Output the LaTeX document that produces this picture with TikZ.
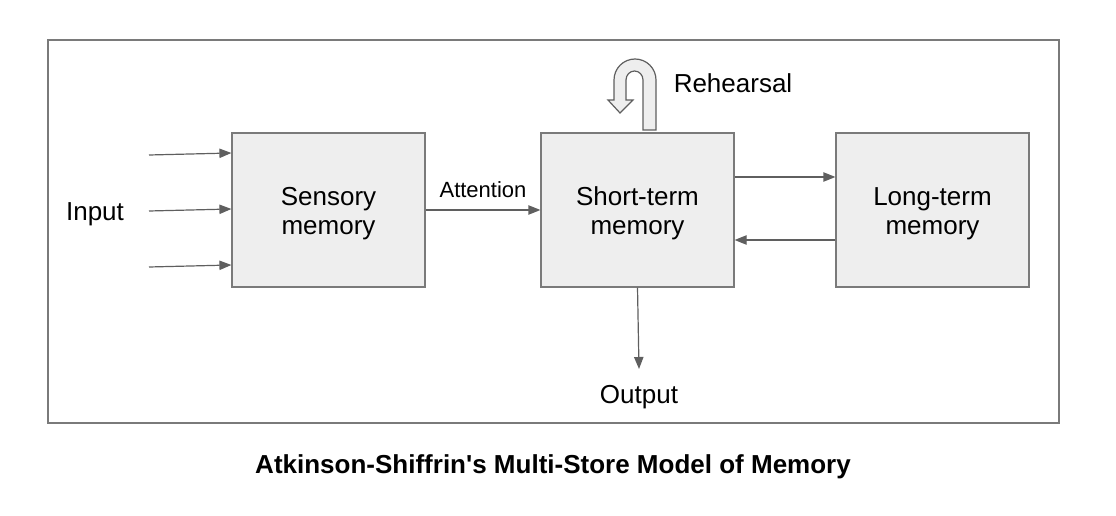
\documentclass[tikz,border=0pt]{standalone}
\usepackage{fontspec}
\setmainfont{Liberation Sans}[Ligatures=TeXOff]
\usetikzlibrary{arrows.meta,calc}
\definecolor{boxfill}{HTML}{EEEEEE}
\definecolor{boxline}{HTML}{7A7A7A}
\definecolor{arrline}{HTML}{5F5F5F}
\newcommand\twolines[2]{\raisebox{-3pt}[\height][\depth]{\begin{tabular}{@{}c@{}}#1\\#2\end{tabular}}}
\tikzset{
  store/.style={draw=boxline, fill=boxfill, line width=0.9pt, minimum width=144.75pt, minimum height=115.5pt, align=center, inner sep=0pt, font=\fontsize{19.5}{22}\selectfont},
  lbl/.style={inner sep=0pt, font=\fontsize{19.5}{22.5}\selectfont},
  flow/.style={draw=arrline, line width=0.9pt, -{Triangle[length=9pt,width=7pt]}}
}
\begin{document}
\begin{tikzpicture}[x=0.75pt,y=-0.75pt]
\useasboundingbox (0,0) rectangle (1116,516);
\draw[boxline, line width=0.9pt] (48,40) rectangle (1059,423);
\node[store] (sens) at (328.5,210) {\twolines{Sensory}{memory}};
\node[store] (stm) at (637.5,210) {\twolines{Short-term}{memory}};
\node[store] (ltm) at (932.5,210) {\twolines{Long-term}{memory}};
\node[lbl] (input) at (95,214) {Input};
\coordinate (in1) at (149,155);
\coordinate (in2) at (149,211);
\coordinate (in3) at (149,267);
\draw[flow] (in1) -- ($(sens.west)+(0,-57)$);
\draw[flow] (in2) -- ($(sens.west)+(0,-1)$);
\draw[flow] (in3) -- ($(sens.west)+(0,55)$);
\draw[flow] (sens.east) -- node[above=8.5pt, inner sep=0pt, font=\fontsize{16.5}{19}\selectfont] (att) {Attention} (stm.west);
\draw[flow] ($(stm.east)+(0,-33)$) -- ($(ltm.west)+(0,-33)$);
\draw[flow] ($(ltm.west)+(0,30)$) -- ($(stm.east)+(0,30)$);
\node[lbl] (out) at (639,397) {Output};
\coordinate (oe) at (639,369);
\draw[flow] (stm.south) -- (oe);
\draw[draw=arrline, fill=boxfill, line width=0.9pt, line join=miter]
  (656,130) -- (656,80) arc[start angle=0, end angle=180, radius=15.75pt]
  -- (614,100) -- (608,100) -- (620,113) -- (633,100) -- (626,100) -- (626,80)
  arc[start angle=180, end angle=0, x radius=6.375pt, y radius=6.75pt]
  -- (643,130) -- cycle;
\node[lbl] (reh) at (733,83) {Rehearsal};
\node[lbl, font=\fontsize{19.5}{22.5}\selectfont\bfseries] (title) at (553,467) {Atkinson-Shiffrin's Multi-Store Model of Memory};
\end{tikzpicture}
\end{document}
